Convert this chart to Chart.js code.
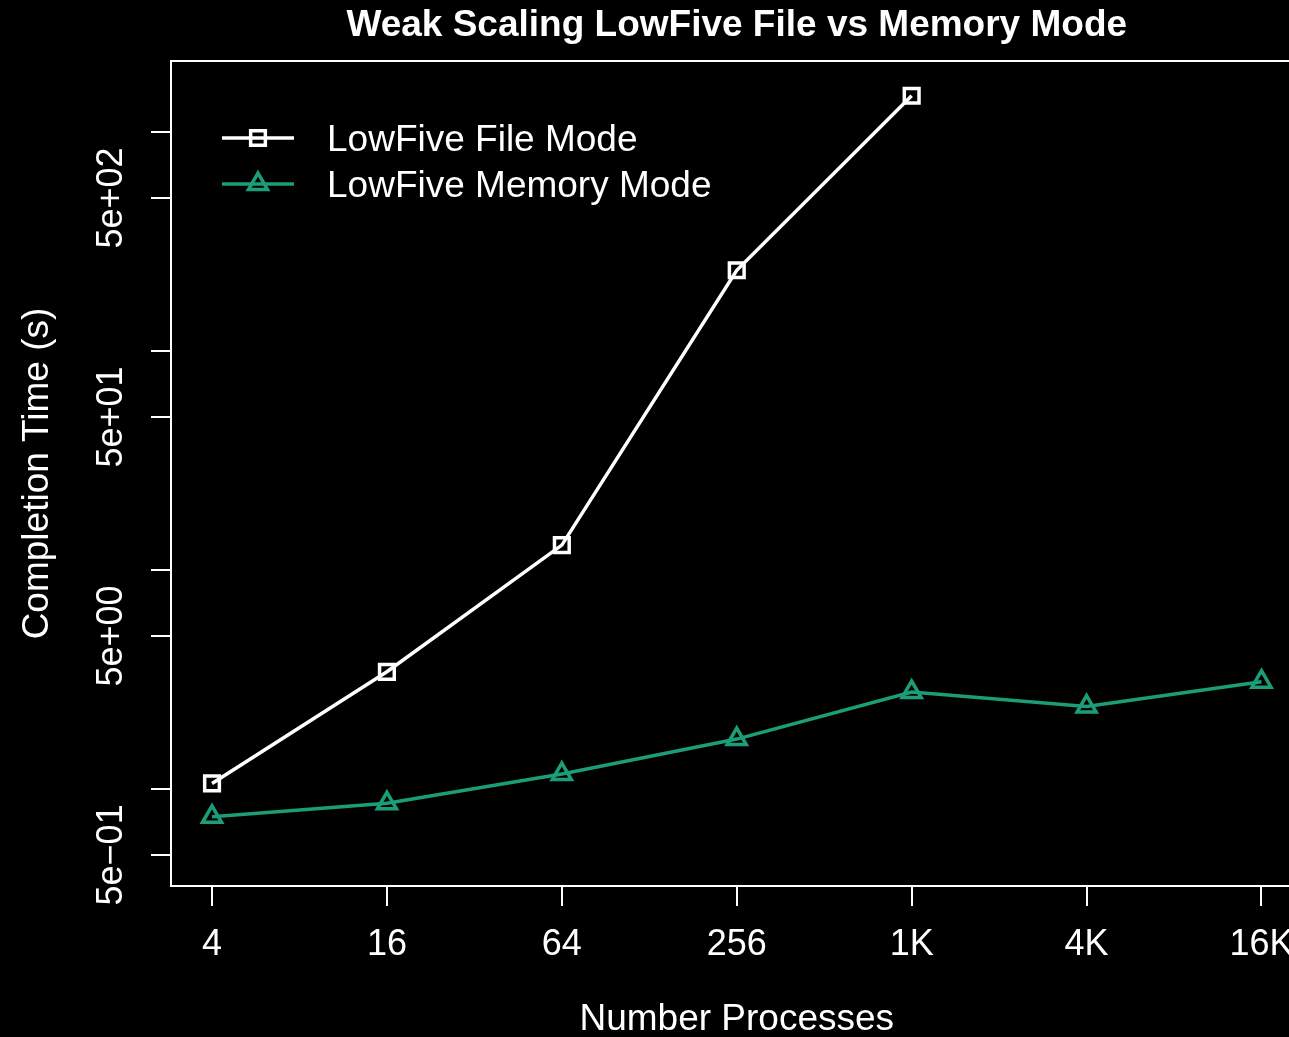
<!DOCTYPE html>
<html>
<head>
<meta charset="utf-8">
<title>Weak Scaling LowFive File vs Memory Mode</title>
<script src="https://cdn.jsdelivr.net/npm/chart.js@4.4.1/dist/chart.umd.min.js"></script>
<style>
  html, body { margin: 0; padding: 0; background: #000; overflow: hidden; }
  #wrap { width: 1289px; height: 1037px; overflow: hidden; }
  canvas { display: block; }
</style>
</head>
<body>
<div id="wrap"><canvas id="scaling" width="1330" height="1037"></canvas></div>
<script>
'use strict';
// ─────────────────────────────────────────────
//  DATA
// ─────────────────────────────────────────────

const PROCS = ['4', '16', '64', '256', '1K', '4K', '16K'];
const FILE_MODE = [1.06, 3.43, 13.0, 234, 1466];
const MEMORY_MODE = [0.746, 0.86, 1.17, 1.69, 2.77, 2.38, 3.09];
const Y_TICKS = [0.5, 1, 5, 10, 50, 100, 500, 1000];
const Y_TICK_LABELS = ['5e\u221201', '', '5e+00', '', '5e+01', '', '5e+02', ''];

const TEAL = '#1b9e77';
const FONT = "'Liberation Sans', Arial, Helvetica, sans-serif";

Chart.defaults.font.family = FONT;
Chart.defaults.color = '#ffffff';

const SERIES = [
  { label: 'LowFive File Mode', values: FILE_MODE, color: '#ffffff', style: 'rect', radius: 10.4 },
  { label: 'LowFive Memory Mode', values: MEMORY_MODE, color: TEAL, style: 'triangle', radius: 11 },
];

// ─────────────────────────────────────────────
//  R-STYLE DECORATIONS (box, title, legend)
// ─────────────────────────────────────────────

const rDecor = {
  id: 'rDecor',
  beforeDatasetsDraw(chart) {
    const { ctx, chartArea: a } = chart;
    ctx.save();
    ctx.strokeStyle = '#ffffff';
    ctx.lineWidth = 2;
    ctx.strokeRect(a.left, a.top, a.right - a.left, a.bottom - a.top);
    ctx.restore();
  },
  afterDraw(chart) {
    const { ctx, chartArea: a } = chart;
    ctx.save();
    ctx.fillStyle = '#ffffff';
    ctx.font = `bold 37px ${FONT}`;
    ctx.textAlign = 'center';
    ctx.textBaseline = 'alphabetic';
    ctx.fillText('Weak Scaling LowFive File vs Memory Mode', (a.left + a.right) / 2, 36);

    // legend
    const rows = [138, 184];
    SERIES.forEach((s, i) => {
      const y = rows[i];
      ctx.strokeStyle = s.color;
      ctx.lineWidth = 3.5;
      ctx.beginPath();
      ctx.moveTo(222, y);
      ctx.lineTo(294, y);
      ctx.stroke();
      ctx.fillStyle = 'rgba(0,0,0,0)';
      Chart.helpers.drawPoint(ctx, { pointStyle: s.style, radius: s.radius, rotation: 0, borderWidth: 3.5 }, 258, y);
      ctx.fillStyle = '#ffffff';
      ctx.font = `37px ${FONT}`;
      ctx.textAlign = 'left';
      ctx.textBaseline = 'alphabetic';
      ctx.fillText(s.label, 327, y + 13);
    });
    ctx.restore();
  },
};

// ─────────────────────────────────────────────
//  CHART
// ─────────────────────────────────────────────

const datasets = SERIES.map(s => ({
  label: s.label,
  data: s.values.map((v, i) => ({ x: i, y: v })),
  borderColor: s.color,
  backgroundColor: 'rgba(0,0,0,0)',
  borderWidth: 3.5,
  pointStyle: s.style,
  pointRadius: s.radius,
  pointBorderWidth: 3.5,
  pointBorderColor: s.color,
  pointBackgroundColor: 'rgba(0,0,0,0)',
  tension: 0,
}));

new Chart(document.getElementById('scaling'), {
  type: 'line',
  data: { datasets },
  plugins: [rDecor],
  options: {
    responsive: false,
    animation: false,
    devicePixelRatio: 1,
    layout: { padding: { left: 0, top: 61, right: 27.5, bottom: 0 } },
    plugins: {
      legend: { display: false },
      title: { display: false },
      tooltip: { enabled: false },
    },
    scales: {
      x: {
        type: 'linear',
        position: 'bottom',
        min: -0.2345,
        max: 6.2345,
        afterBuildTicks: scale => { scale.ticks = PROCS.map((_, i) => ({ value: i })); },
        afterFit: scale => { scale.height = 151; },
        ticks: {
          autoSkip: false,
          maxRotation: 0,
          minRotation: 0,
          padding: 17,
          color: '#ffffff',
          font: { size: 36 },
          callback: v => PROCS[v] ?? '',
        },
        grid: { drawOnChartArea: false, drawTicks: true, tickLength: 20, color: '#ffffff', lineWidth: 2 },
        border: { display: false },
        title: {
          display: true,
          text: 'Number Processes',
          color: '#ffffff',
          font: { size: 37 },
          padding: { top: 0, bottom: -5 },
        },
      },
      y: {
        type: 'logarithmic',
        position: 'left',
        min: 0.3605,
        max: 2113,
        afterBuildTicks: scale => { scale.ticks = Y_TICKS.map(v => ({ value: v })); },
        afterFit: scale => { scale.width = 171; },
        ticks: {
          autoSkip: false,
          minRotation: 90,
          maxRotation: 90,
          crossAlign: 'center',
          padding: -12,
          color: '#ffffff',
          font: { size: 36 },
          callback: v => {
            const i = Y_TICKS.indexOf(v);
            return i >= 0 ? Y_TICK_LABELS[i] : '';
          },
        },
        grid: { drawOnChartArea: false, drawTicks: true, tickLength: 20, color: '#ffffff', lineWidth: 2 },
        border: { display: false },
        title: {
          display: true,
          text: 'Completion Time (s)',
          color: '#ffffff',
          font: { size: 37 },
          padding: { top: 16, bottom: 0 },
        },
      },
    },
  },
});
</script>
</body>
</html>
